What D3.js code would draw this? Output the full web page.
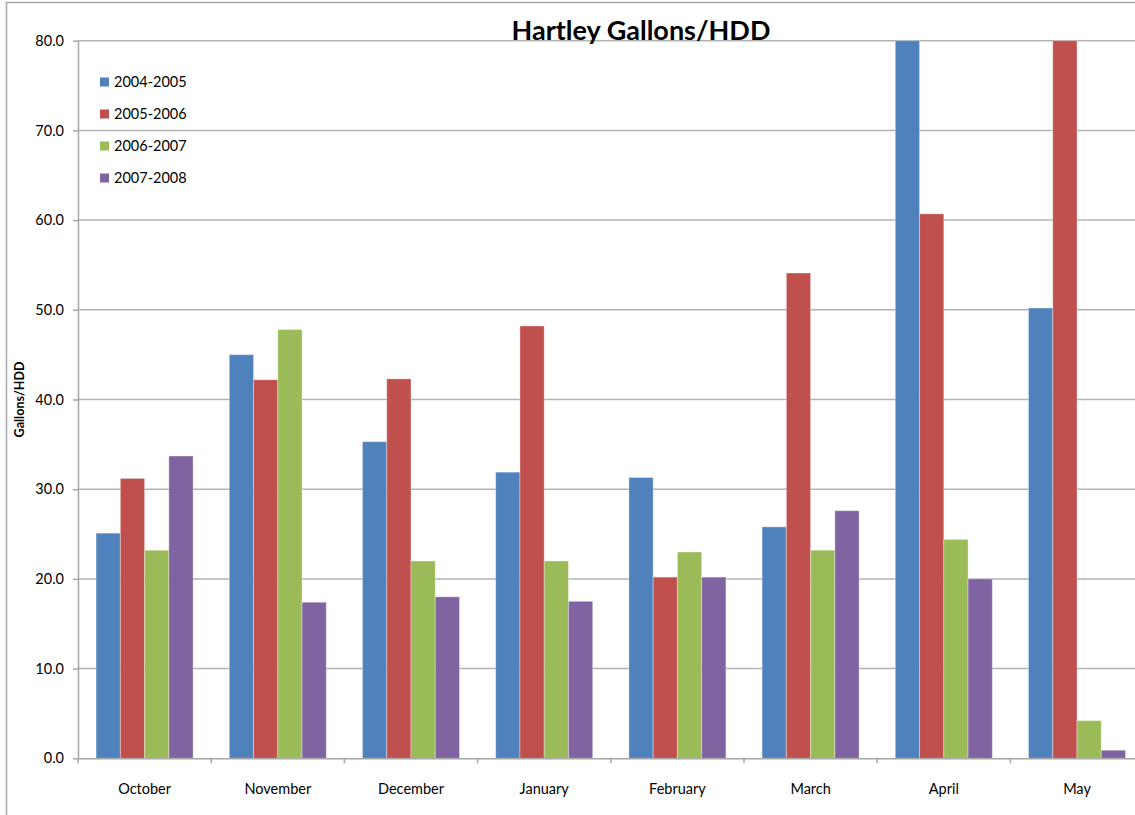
<!DOCTYPE html>
<html>
<head>
<meta charset="utf-8">
<script src="https://cdn.jsdelivr.net/npm/d3@7"></script>
<style>
    body { margin: 0; background: #fff; }
    #chart-area { width: 1135px; height: 815px; }
    text { font-family: Lato, "Open Sans", sans-serif; fill: #000; }
    .axis path, .axis line { stroke: #a6a6a6; stroke-width: 1.5px; }
    .grid line { stroke: #b3b3b3; stroke-width: 1.5px; }
</style>
</head>
<body>
<div id="chart-area"></div>
<script>
// chart data
const months = ["October", "November", "December", "January", "February", "March", "April", "May"];
const seasons = ["2004-2005", "2005-2006", "2006-2007", "2007-2008"];
const values2004 = [25.1, 45.0, 35.3, 31.9, 31.3, 25.8, 80.0, 50.2];
const values2005 = [31.2, 42.2, 42.3, 48.2, 20.2, 54.1, 60.7, 80.0];
const values2006 = [23.2, 47.8, 22.0, 22.0, 23.0, 23.2, 24.4, 4.2];
const values2007 = [33.7, 17.4, 18.0, 17.5, 20.2, 27.6, 20.0, 0.9];
const yTicks = [0, 10, 20, 30, 40, 50, 60, 70, 80];
const colors = ["#4f81bd", "#c0504d", "#9bbb59", "#8064a2"];

class GroupedBarVis {
    constructor(parentElement, title) {
        this.parentElement = parentElement;
        this.title = title;
        this.series = [values2004, values2005, values2006, values2007];
        this.initVis();
    }

    initVis() {
        const vis = this;

        vis.margin = { top: 40.7, left: 78 };
        vis.width = 8 * 133.2;
        vis.height = 717.6;

        const root = d3.select("#" + vis.parentElement)
            .append("svg")
            .attr("width", 1135)
            .attr("height", 815);

        // outer chart frame
        root.append("rect")
            .attr("x", 6.5).attr("y", 2.5)
            .attr("width", 1200).attr("height", 900)
            .attr("fill", "none")
            .attr("stroke", "#a6a6a6")
            .attr("stroke-width", 1.5);

        vis.svg = root.append("g")
            .attr("transform", `translate(${vis.margin.left}, ${vis.margin.top})`);

        vis.xScale = d3.scaleBand()
            .domain(months)
            .range([0, vis.width])
            .padding(0);

        vis.xInner = d3.scaleBand()
            .domain(seasons)
            .range([0, vis.xScale.bandwidth()])
            .paddingInner(0)
            .paddingOuter(0.746);

        vis.yScale = d3.scaleLinear()
            .domain([0, 80])
            .range([vis.height, 0]);

        vis.svg.append("g")
            .attr("class", "grid")
            .selectAll("line")
            .data(yTicks.slice(1))
            .enter()
            .append("line")
            .attr("x1", 0)
            .attr("x2", vis.width)
            .attr("y1", d => vis.yScale(d))
            .attr("y2", d => vis.yScale(d));

        const barData = [];
        months.forEach((m, i) => {
            seasons.forEach((s, j) => {
                barData.push({ month: m, season: s, value: vis.series[j][i], color: colors[j] });
            });
        });

        vis.svg.selectAll(".bar")
            .data(barData)
            .enter()
            .append("rect")
            .attr("class", "bar")
            .attr("x", d => vis.xScale(d.month) + vis.xInner(d.season))
            .attr("y", d => vis.yScale(d.value))
            .attr("width", vis.xInner.bandwidth())
            .attr("height", d => vis.height - vis.yScale(d.value))
            .attr("fill", d => d.color)
            .attr("stroke", "rgba(255,255,255,0.35)")
            .attr("stroke-width", 1);

        vis.yAxis = d3.axisLeft()
            .scale(vis.yScale)
            .tickValues(yTicks)
            .tickSize(5)
            .tickPadding(9)
            .tickSizeOuter(0)
            .tickFormat(d3.format(".1f"));

        vis.svg.append("g")
            .attr("class", "y-axis axis")
            .call(vis.yAxis)
            .selectAll("text")
            .style("font-size", "14.5px");

        vis.xAxis = d3.axisBottom()
            .scale(vis.xScale)
            .tickSize(0)
            .tickPadding(25);

        const xAxisGroup = vis.svg.append("g")
            .attr("class", "x-axis axis")
            .attr("transform", `translate(0, ${vis.height})`)
            .call(vis.xAxis);
        xAxisGroup.selectAll("text").style("font-size", "14.5px");

        // tick marks between categories
        xAxisGroup.selectAll(".sep")
            .data(months)
            .enter()
            .append("line")
            .attr("class", "sep")
            .attr("x1", d => vis.xScale(d))
            .attr("x2", d => vis.xScale(d))
            .attr("y1", 0)
            .attr("y2", 5);

        // title
        root.append("text")
            .attr("x", 641)
            .attr("y", 40)
            .attr("text-anchor", "middle")
            .style("font-size", "27px")
            .style("font-weight", "bold")
            .text(vis.title);

        // y axis label
        root.append("text")
            .attr("transform", `translate(24, ${vis.margin.top + vis.height / 2}) rotate(-90)`)
            .attr("text-anchor", "middle")
            .style("font-size", "12.5px")
            .style("font-weight", "bold")
            .text("Gallons/HDD");

        // legend
        const legend = root.append("g")
            .selectAll(".legend-item")
            .data(seasons)
            .enter()
            .append("g")
            .attr("class", "legend-item")
            .attr("transform", (d, i) => `translate(100, ${82 + i * 32})`);

        legend.append("rect")
            .attr("x", 0)
            .attr("y", -4.5)
            .attr("width", 9)
            .attr("height", 9)
            .attr("fill", (d, i) => colors[i]);

        legend.append("text")
            .attr("x", 14)
            .attr("dy", "0.35em")
            .style("font-size", "14.5px")
            .text(d => d);
    }
}

new GroupedBarVis("chart-area", "Hartley Gallons/HDD");
</script>
</body>
</html>
